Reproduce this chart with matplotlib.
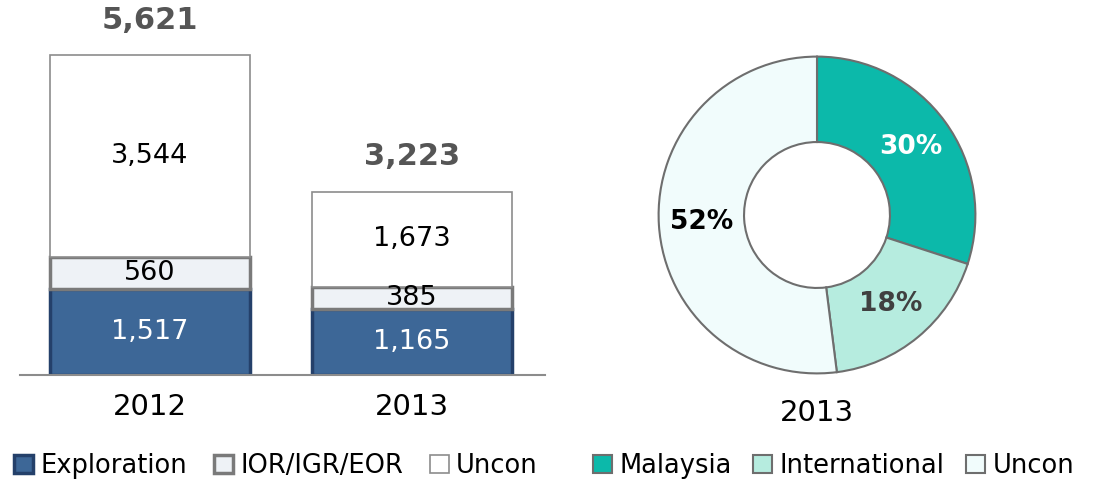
import matplotlib
matplotlib.use("Agg")
import matplotlib.pyplot as plt

plt.rcParams['font.family'] = ['DejaVu Sans']

# ---- data ----
years = ["2012", "2013"]
exploration = [1517, 1165]
ior = [560, 385]
uncon = [3544, 1673]
totals = [5621, 3223]
bar_series = ["Exploration", "IOR/IGR/EOR", "Uncon"]

donut_labels = ["Malaysia", "International", "Uncon"]
donut_values = [30, 18, 52]
donut_year = "2013"

W, H = 1095, 484
fig = plt.figure(figsize=(W / 100, H / 100), dpi=100)

def box(x0, y0, x1, y1):
    return [x0 / W, 1 - y1 / H, (x1 - x0) / W, (y1 - y0) / H]

# ---- stacked bar chart ----
ax = fig.add_axes(box(20, 0, 545, 375))
x = [0, 1]
bw = 0.763
b1 = ax.bar(x, exploration, bw, color="#3D6797", edgecolor="#24406A", linewidth=2.5, label=bar_series[0])
bottom2 = exploration
b2 = ax.bar(x, ior, bw, bottom=bottom2, color="#EEF2F6", edgecolor="#7A7A7A", linewidth=2.5, label=bar_series[1])
bottom3 = [a + b for a, b in zip(exploration, ior)]
b3 = ax.bar(x, uncon, bw, bottom=bottom3, color="white", edgecolor="#8C8C8C", linewidth=1.2, label=bar_series[2])

for i in range(len(x)):
    ax.text(x[i], exploration[i] / 2, f"{exploration[i]:,}", ha="center", va="center",
            color="white", fontsize=19.5)
    ax.text(x[i], bottom2[i] + ior[i] / 2, f"{ior[i]:,}", ha="center", va="center",
            color="black", fontsize=19.5)
    ax.text(x[i], bottom3[i] + uncon[i] / 2, f"{uncon[i]:,}", ha="center", va="center",
            color="black", fontsize=19.5)
    ax.annotate(f"{totals[i]:,}", (x[i], totals[i]), xytext=(0, 25), textcoords="offset points",
                ha="center", va="center", fontsize=22, fontweight="bold", color="#555555")

ax.set_xlim(-0.496, 1.508)
ax.set_ylim(0, 6590)
for s in ["top", "left", "right"]:
    ax.spines[s].set_visible(False)
ax.spines["bottom"].set_color("#8C8C8C")
ax.spines["bottom"].set_linewidth(1.5)
ax.set_yticks([])
ax.set_xticks(x)
ax.set_xticklabels(years, fontsize=21)
ax.tick_params(axis="x", length=0, pad=13)

fig.legend(handles=[b1, b2, b3], labels=bar_series, loc="center left",
           bbox_to_anchor=(14 / W, 1 - 466 / H), ncol=3, frameon=False, fontsize=18.5,
           handlelength=0.74, handleheight=0.74, handletextpad=0.28, columnspacing=1.05,
           borderaxespad=0, borderpad=0)

# ---- donut ----
ax2 = fig.add_axes(box(657, 55, 977, 375))
cols = ["#0CB9AA", "#B6ECDF", "#F1FCFC"]
wedges, _, autotexts = ax2.pie(donut_values, colors=cols, startangle=90, counterclock=False,
                               radius=0.99, autopct="%d%%", pctdistance=0.73,
                               wedgeprops=dict(width=0.534, edgecolor="#6E6E6E", linewidth=1.5))
pct_colors = ["white", "#404040", "black"]
for t, c in zip(autotexts, pct_colors):
    t.set_color(c)
    t.set_fontsize(19)
    t.set_fontweight("bold")
ax2.set_xlim(-1, 1)
ax2.set_ylim(-1, 1)
ax2.set_aspect("equal")
ax2.axis("off")

fig.text(817 / W, 1 - 413 / H, donut_year, ha="center", va="center", fontsize=21)

fig.legend(handles=wedges, labels=donut_labels, loc="center left",
           bbox_to_anchor=(593 / W, 1 - 466 / H), ncol=3, frameon=False, fontsize=18.5,
           handlelength=0.74, handleheight=0.74, handletextpad=0.28, columnspacing=0.85,
           borderaxespad=0, borderpad=0)

fig.savefig("out.png", dpi=100)
